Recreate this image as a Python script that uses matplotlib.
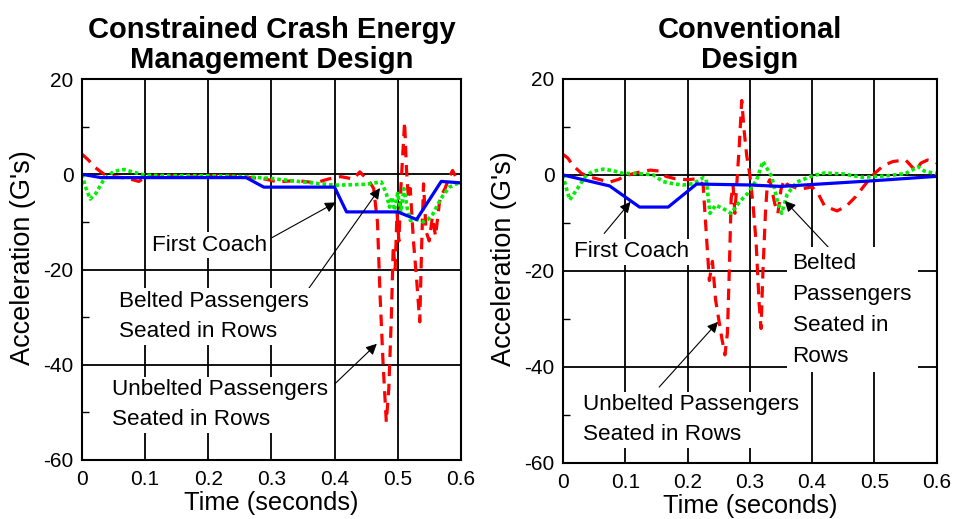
import numpy as np
import matplotlib
matplotlib.use("Agg")
import matplotlib.pyplot as plt
from matplotlib.ticker import MultipleLocator

plt.rcParams['font.family'] = ['Liberation Sans', 'DejaVu Sans']
plt.rcParams['axes.unicode_minus'] = False

# ---- datos ----
# diseño CEM (izquierda)
cem_coach_t = [0, 0.03, 0.26, 0.288, 0.40, 0.419, 0.50, 0.53, 0.569, 0.6]
cem_coach_a = [0, -0.7, -0.7, -2.7, -2.7, -7.9, -7.9, -9.5, -1.5, -1.8]

cem_belt_t = [0, 0.005, 0.013, 0.022, 0.035, 0.05, 0.066, 0.08, 0.1, 0.15, 0.2, 0.26,
              0.3, 0.35, 0.4, 0.45, 0.474, 0.482, 0.487, 0.491, 0.495, 0.5, 0.505,
              0.51, 0.515, 0.52, 0.53, 0.54, 0.548, 0.556, 0.565, 0.572, 0.582,
              0.593, 0.6]
cem_belt_a = [0, -2.5, -5.2, -4, -1, 0.6, 1.0, 0.5, -0.2, -0.3, -0.3, -0.5,
              -0.9, -1.6, -2.3, -2.1, -1.6, -4, -6.9, -4.8, -7.6, -4, -8,
              -3, -7, -9.7, -9.5, -10, -9.5, -8.3, -6, -4.4, -2.7,
              -2, -1.8]

cem_unbelt_t = [0.0, 0.01, 0.02, 0.035, 0.05, 0.07, 0.09, 0.1, 0.13, 0.16, 0.2, 0.23,
                0.26, 0.29, 0.31, 0.34, 0.37, 0.39, 0.41, 0.43, 0.44, 0.455, 0.462,
                0.468, 0.472, 0.477, 0.482, 0.486, 0.49, 0.493, 0.496, 0.499, 0.502,
                0.505, 0.508, 0.511, 0.514, 0.517, 0.52, 0.525, 0.53, 0.535, 0.538,
                0.541, 0.545, 0.55, 0.555, 0.56, 0.567, 0.575, 0.582, 0.587, 0.592, 0.6]
cem_unbelt_a = [4.2, 3.0, 1.5, 0.0, -0.5, -0.8, -1.5, -0.6, -0.3, -0.6, -0.4, -0.3,
                -0.6, -1.0, -1.6, -1.3, -1.8, -1.0, -0.5, -1.0, 0.5, -1.5, -3,
                -10, -25, -40, -52, -45, -30, -15, -20, -8, -14,
                -3, 4, 11, 1, -5, -3, -14, -22, -31, -15,
                -2, -12, -14, -9, -13, -5, -3, -0.5, 0.8, -0.5, -1.5]

# diseño convencional (derecha)
conv_coach_t = [0, 0.075, 0.123, 0.169, 0.2145, 0.3, 0.35, 0.5, 0.6]
conv_coach_a = [0, -2.3, -6.7, -6.7, -1.9, -2.1, -2.4, -1.2, -0.3]

conv_belt_t = [0, 0.005, 0.011, 0.02, 0.038, 0.05, 0.065, 0.08, 0.097, 0.12, 0.145,
               0.161, 0.18, 0.193, 0.21, 0.225, 0.23, 0.236, 0.245, 0.257, 0.27,
               0.284, 0.297, 0.311, 0.321, 0.335, 0.345, 0.351, 0.36, 0.375, 0.4,
               0.42, 0.45, 0.48, 0.52, 0.55, 0.57, 0.58, 0.59, 0.6]
conv_belt_a = [0, -2.5, -5.2, -3.5, 0, 0.8, 1.2, 0.9, 0.3, 0.3, 0,
               -1.4, -1.9, -2.1, -1.8, -0.6, -1.0, -8, -6.3, -7, -8,
               -5.5, -3.8, -1, 2.8, -0.3, -5.9, -8, -4, -1.5, -0.2,
               0.4, 0.2, -0.5, -0.2, 0.3, 1.7, 0.8, 0.5, 0.3]

conv_unbelt_t = [0, 0.008, 0.016, 0.03, 0.045, 0.06, 0.075, 0.09, 0.1, 0.12, 0.14,
                 0.155, 0.165, 0.18, 0.2, 0.215, 0.225, 0.23, 0.235, 0.24, 0.245,
                 0.25, 0.255, 0.26, 0.264, 0.267, 0.27, 0.273, 0.276, 0.279, 0.283,
                 0.287, 0.291, 0.295, 0.3, 0.305, 0.31, 0.315, 0.318, 0.321, 0.325,
                 0.328, 0.332, 0.34, 0.345, 0.35, 0.355, 0.36, 0.38, 0.4, 0.41, 0.42,
                 0.44, 0.455, 0.47, 0.485, 0.5, 0.515, 0.53, 0.55, 0.565, 0.575,
                 0.585, 0.595, 0.6]
conv_unbelt_a = [4.3, 3.5, 2.0, 0.3, -0.5, -1.0, -1.5, -0.9, -0.2, 0.5, 1.0,
                 0.8, -0.3, -0.8, -1.0, -0.8, -2, -12, -22, -18, -26,
                 -30, -34, -37.5, -33, -20, -5, -2, -8, -2, 6,
                 15.5, 9, 4, 0, -6, -14, -27, -32, -20, -8,
                 -2, -1, -6, -8, -3, -1, -2, -3, -2.5, -4, -6.5,
                 -7.5, -6.5, -4.5, -2, 0.3, 2, 2.8, 3.1, 1, 2.5,
                 3.1, 2.8, 2.5]

xticks = [0, 0.1, 0.2, 0.3, 0.4, 0.5, 0.6]
xticklabels = ['0', '0.1', '0.2', '0.3', '0.4', '0.5', '0.6']
yticks = [-60, -40, -20, 0, 20]

BLUE = '#0000ff'
RED = '#ff0000'
GREEN = '#00ee00'

fig = plt.figure(figsize=(9.54, 5.19), dpi=100)
ax1 = fig.add_axes([0.086, 0.1137, 0.397, 0.734])
ax2 = fig.add_axes([0.590, 0.108, 0.392, 0.740])

TXT = 16.2


def estilo(ax, titulo):
    ax.set_xlim(0, 0.6)
    ax.set_ylim(-60, 20)
    ax.set_xticks(xticks)
    ax.set_xticklabels(xticklabels)
    ax.set_yticks(yticks)
    ax.yaxis.set_minor_locator(MultipleLocator(10))
    ax.tick_params(which='major', direction='in', length=0, labelsize=15, pad=6)
    ax.tick_params(axis='x', which='major', pad=7)
    ax.tick_params(which='minor', direction='in', length=5, width=1)
    ax.grid(True, which='major', color='black', lw=1.3)
    for s in ax.spines.values():
        s.set_linewidth(1.5)
    ax.set_xlabel('Time (seconds)', fontsize=18.3, labelpad=2)
    ax.set_ylabel("Acceleration (G's)", fontsize=19.5)
    ax.yaxis.set_label_coords(-0.122, 0.532)
    ax.set_title(titulo, fontsize=21, fontweight='bold', pad=8, linespacing=1.1)


def curvas(ax, ct, ca, bt, ba, ut, ua):
    ax.plot(ut, ua, color=RED, lw=2.3, dashes=(3.6, 2.4), zorder=2.2)
    ax.plot(bt, ba, color=GREEN, lw=2.6, dashes=(1, 0.8), zorder=2.3)
    ax.plot(ct, ca, color=BLUE, lw=2.3, zorder=2.4)


def flecha(ax, cola, punta):
    ax.annotate('', xy=punta, xytext=cola,
                arrowprops=dict(arrowstyle='-|>', color='black', lw=0.8,
                                mutation_scale=16, shrinkA=0, shrinkB=0),
                zorder=4)


caja = dict(facecolor='white', edgecolor='none', pad=2)

# ---- izquierda
estilo(ax1, 'Constrained Crash Energy\nManagement Design')
curvas(ax1, cem_coach_t, cem_coach_a, cem_belt_t, cem_belt_a, cem_unbelt_t, cem_unbelt_a)
ax1.text(0.2018, -14.9, 'First Coach', fontsize=TXT, ha='center', va='center', bbox=caja, zorder=5)
ax1.text(0.0586, -29.9, 'Belted Passengers\nSeated in Rows', fontsize=TXT, ha='left',
         va='center', linespacing=1.58, bbox=caja, zorder=5)
ax1.text(0.0475, -48.4, 'Unbelted Passengers\nSeated in Rows', fontsize=TXT, ha='left',
         va='center', linespacing=1.55, bbox=caja, zorder=5)
flecha(ax1, (0.301, -13.3), (0.402, -5.9))
flecha(ax1, (0.359, -24.0), (0.472, -2.9))
flecha(ax1, (0.4005, -44.0), (0.467, -35.6))

# ---- derecha
estilo(ax2, 'Conventional\nDesign')
curvas(ax2, conv_coach_t, conv_coach_a, conv_belt_t, conv_belt_a, conv_unbelt_t, conv_unbelt_a)
ax2.text(0.110, -16.0, 'First Coach', fontsize=TXT, ha='center', va='center', bbox=caja, zorder=5)
ax2.text(0.3685, -28.1, 'Belted\nPassengers\nSeated in\nRows', fontsize=TXT, ha='left',
         va='center', linespacing=1.62,
         bbox=dict(facecolor='white', edgecolor='none', pad=4), zorder=5)
ax2.text(0.0326, -51.0, 'Unbelted Passengers\nSeated in Rows', fontsize=TXT, ha='left',
         va='center', linespacing=1.55, bbox=caja, zorder=5)
flecha(ax2, (0.0663, -12.2), (0.1086, -5.6))
flecha(ax2, (0.4327, -16.0), (0.356, -5.4))
flecha(ax2, (0.1545, -44.2), (0.249, -30.6))

fig.savefig('out.png', dpi=100)
